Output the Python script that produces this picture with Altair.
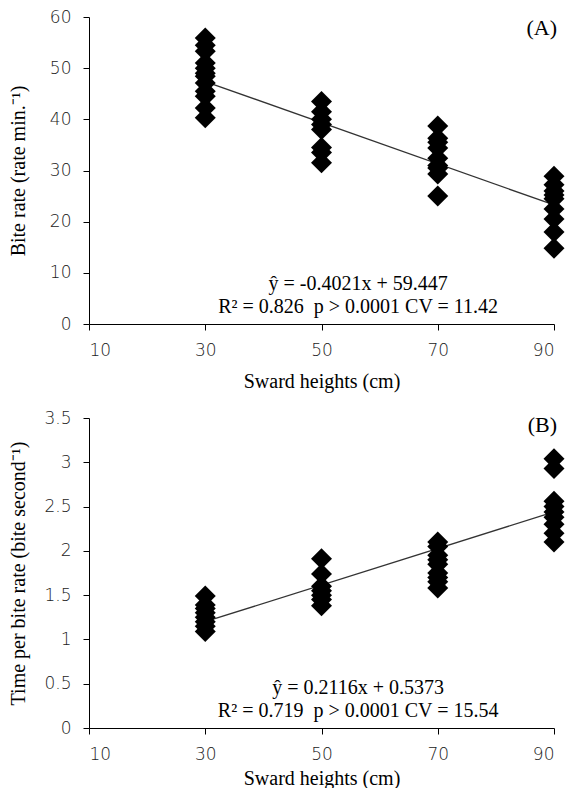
import altair as alt
import pandas as pd

# ---------------- data ----------------
heights = [30, 50, 70, 90]
x_ticks = [10, 30, 50, 70, 90]

# Panel A: bite rate (rate min.-1)
bite_30 = [55.9, 54.5, 53.3, 51.0, 50.0, 49.0, 48.4, 47.1, 45.5, 44.5, 42.2, 40.3]
bite_50 = [43.5, 41.5, 40.0, 39.0, 38.0, 34.5, 33.5, 31.5]
bite_70 = [38.7, 36.3, 35.5, 34.4, 32.4, 31.0, 30.5, 29.3, 25.0]
bite_90 = [28.9, 27.2, 26.0, 25.2, 24.5, 22.5, 20.5, 18.0, 14.8]
fit_a_x = [30, 90]
fit_a_y = [47.39, 23.26]
a_ticks = [0, 10, 20, 30, 40, 50, 60]

# Panel B: time per bite rate (bite second-1)
tpb_30 = [1.49, 1.39, 1.35, 1.30, 1.25, 1.20, 1.15, 1.09]
tpb_50 = [1.91, 1.74, 1.60, 1.55, 1.50, 1.45, 1.38]
tpb_70 = [2.10, 2.05, 1.95, 1.90, 1.85, 1.75, 1.70, 1.65, 1.58]
tpb_90 = [3.04, 2.93, 2.56, 2.50, 2.44, 2.38, 2.30, 2.20, 2.10]
fit_b_x = [30, 90]
fit_b_y = [1.20, 2.44]
b_ticks = [0, 0.5, 1, 1.5, 2, 2.5, 3, 3.5]

eq_a = ["ŷ = -0.4021x + 59.447", "R² = 0.826\u00a0 p > 0.0001 CV = 11.42"]
eq_a_y = [7.9, 3.3]
eq_b = ["ŷ = 0.2116x + 0.5373", "R² = 0.719\u00a0 p > 0.0001 CV = 15.54"]
eq_b_y = [0.45, 0.19]
eq_x = 56.3

SERIF = "Liberation Serif"
SANS = "DejaVu Sans"
W = 465


def points_df(cols):
    rows = []
    for h, vals in zip(heights, cols):
        for v in vals:
            rows.append({"x": h, "y": v})
    return pd.DataFrame(rows)


def panel(cols, fx, fy, eq, eq_y, ytitle, ydomain, yticks, h, label, label_y, xtitle_y):
    pts = points_df(cols)
    line = pd.DataFrame({"x": fx, "y": fy})
    txt = pd.DataFrame({"x": [eq_x] * len(eq), "y": eq_y, "t": eq})
    lab = pd.DataFrame({"x": [90], "y": [label_y], "t": [label]})

    x_enc = alt.X(
        "x:Q",
        scale=alt.Scale(domain=[10, 90], nice=False, zero=False),
        axis=alt.Axis(
            values=x_ticks,
            title="Sward heights (cm)",
            titleY=xtitle_y,
            titleBaseline="middle",
        ),
    )
    y_enc = alt.Y(
        "y:Q",
        scale=alt.Scale(domain=ydomain, nice=False),
        axis=alt.Axis(
            values=yticks,
            format=".2~f",
            title=ytitle,
            titleX=-71,
            titleY=h / 2,
            titleAngle=270,
            titleBaseline="middle",
            titleAlign="center",
        ),
    )

    l = alt.Chart(line).mark_line(color="#333333", strokeWidth=1.3).encode(x=x_enc, y=y_enc)
    p = alt.Chart(pts).mark_point(
        shape="diamond", filled=True, color="black", opacity=1, size=440
    ).encode(x=x_enc, y=y_enc)
    t = alt.Chart(txt).mark_text(
        font=SERIF, fontSize=20, align="center", baseline="middle", color="black"
    ).encode(x=x_enc, y=y_enc, text="t:N")
    lb = alt.Chart(lab).mark_text(
        font=SERIF, fontSize=22, align="right", baseline="middle", color="black", dx=3
    ).encode(x=x_enc, y=y_enc, text="t:N")
    return alt.layer(l, p, t, lb).properties(width=W, height=h)


chart_a = panel(
    [bite_30, bite_50, bite_70, bite_90], fit_a_x, fit_a_y, eq_a, eq_a_y,
    "Bite rate (rate min.⁻¹)", [0, 60], a_ticks, 307, "(A)", 57.9, 57,
)
chart_b = panel(
    [tpb_30, tpb_50, tpb_70, tpb_90], fit_b_x, fit_b_y, eq_b, eq_b_y,
    "Time per bite rate (bite second⁻¹)", [0, 3.5], b_ticks, 310, "(B)", 3.42, 50,
)

chart = (
    alt.vconcat(chart_a, chart_b, spacing=18)
    .properties(padding={"top": 0, "left": 0, "right": 0, "bottom": 0})
    .configure_view(stroke=None)
    .configure_axis(
        domainColor="black",
        tickColor="black",
        tickSize=6,
        grid=False,
        labelFont=SANS,
        labelFontSize=17,
        labelFontWeight=200,
        labelColor="#222222",
        labelPadding=12,
        titleFont=SERIF,
        titleFontSize=20,
        titleFontWeight="normal",
        titleColor="black",
    )
)

chart.save("out.html", embed_options={"renderer": "svg", "actions": False})
